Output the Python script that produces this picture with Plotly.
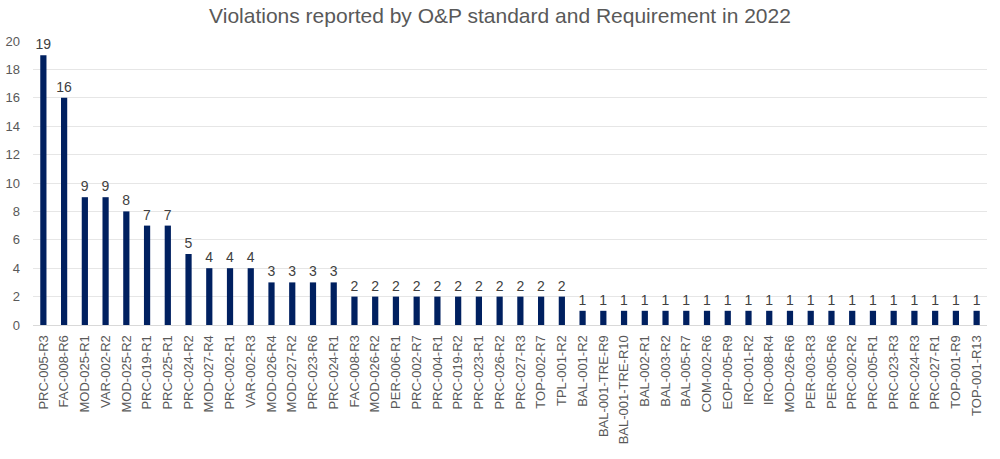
import plotly.graph_objects as go

requirements = [
    "PRC-005-R3", "FAC-008-R6", "MOD-025-R1", "VAR-002-R2", "MOD-025-R2",
    "PRC-019-R1", "PRC-025-R1", "PRC-024-R2", "MOD-027-R4", "PRC-002-R1",
    "VAR-002-R3", "MOD-026-R4", "MOD-027-R2", "PRC-023-R6", "PRC-024-R1",
    "FAC-008-R3", "MOD-026-R2", "PER-006-R1", "PRC-002-R7", "PRC-004-R1",
    "PRC-019-R2", "PRC-023-R1", "PRC-026-R2", "PRC-027-R3", "TOP-002-R7",
    "TPL-001-R2", "BAL-001-R2", "BAL-001-TRE-R9", "BAL-001-TRE-R10", "BAL-002-R1",
    "BAL-003-R2", "BAL-005-R7", "COM-002-R6", "EOP-005-R9", "IRO-001-R2",
    "IRO-008-R4", "MOD-026-R6", "PER-003-R3", "PER-005-R6", "PRC-002-R2",
    "PRC-005-R1", "PRC-023-R3", "PRC-024-R3", "PRC-027-R1", "TOP-001-R9",
    "TOP-001-R13",
]
violations = [
    19, 16, 9, 9, 8,
    7, 7, 5, 4, 4,
    4, 3, 3, 3, 3,
    2, 2, 2, 2, 2,
    2, 2, 2, 2, 2,
    2, 1, 1, 1, 1,
    1, 1, 1, 1, 1,
    1, 1, 1, 1, 1,
    1, 1, 1, 1, 1,
    1,
]
y_ticks = list(range(0, 21, 2))

fig = go.Figure()
fig.add_trace(go.Bar(
    x=requirements,
    y=violations,
    marker_color="#002060",
    marker_line_width=0,
    text=violations,
    textposition="outside",
    constraintext="none",
    textfont=dict(size=14, color="#404040"),
    cliponaxis=False,
))

fig.update_layout(
    width=1000,
    height=459,
    paper_bgcolor="white",
    plot_bgcolor="white",
    font=dict(family="Liberation Sans, Arial, sans-serif", color="#595959"),
    title=dict(
        text="Violations reported by O&P standard and Requirement in 2022",
        x=0.5, xanchor="center", y=0.965, yanchor="middle",
        font=dict(size=21, color="#595959"),
    ),
    margin=dict(l=33, r=13, t=41, b=134),
    bargap=0.7,
    showlegend=False,
)
fig.update_xaxes(
    tickangle=-90,
    tickfont=dict(size=13, color="#595959"),
    showline=True, linecolor="#d9d9d9", linewidth=1,
    ticks="",
    ticklabelstandoff=4,
    automargin=False,
)
fig.update_yaxes(
    range=[0, 20],
    tickvals=y_ticks,
    tickfont=dict(size=13, color="#595959"),
    showgrid=True, gridcolor="#e6e6e6",
    zeroline=False,
    ticks="",
    ticklabelstandoff=12,
    automargin=False,
)

fig.write_html(
    "out.html",
    config={"displayModeBar": False},
    post_script="document.body.style.margin='0';",
)
